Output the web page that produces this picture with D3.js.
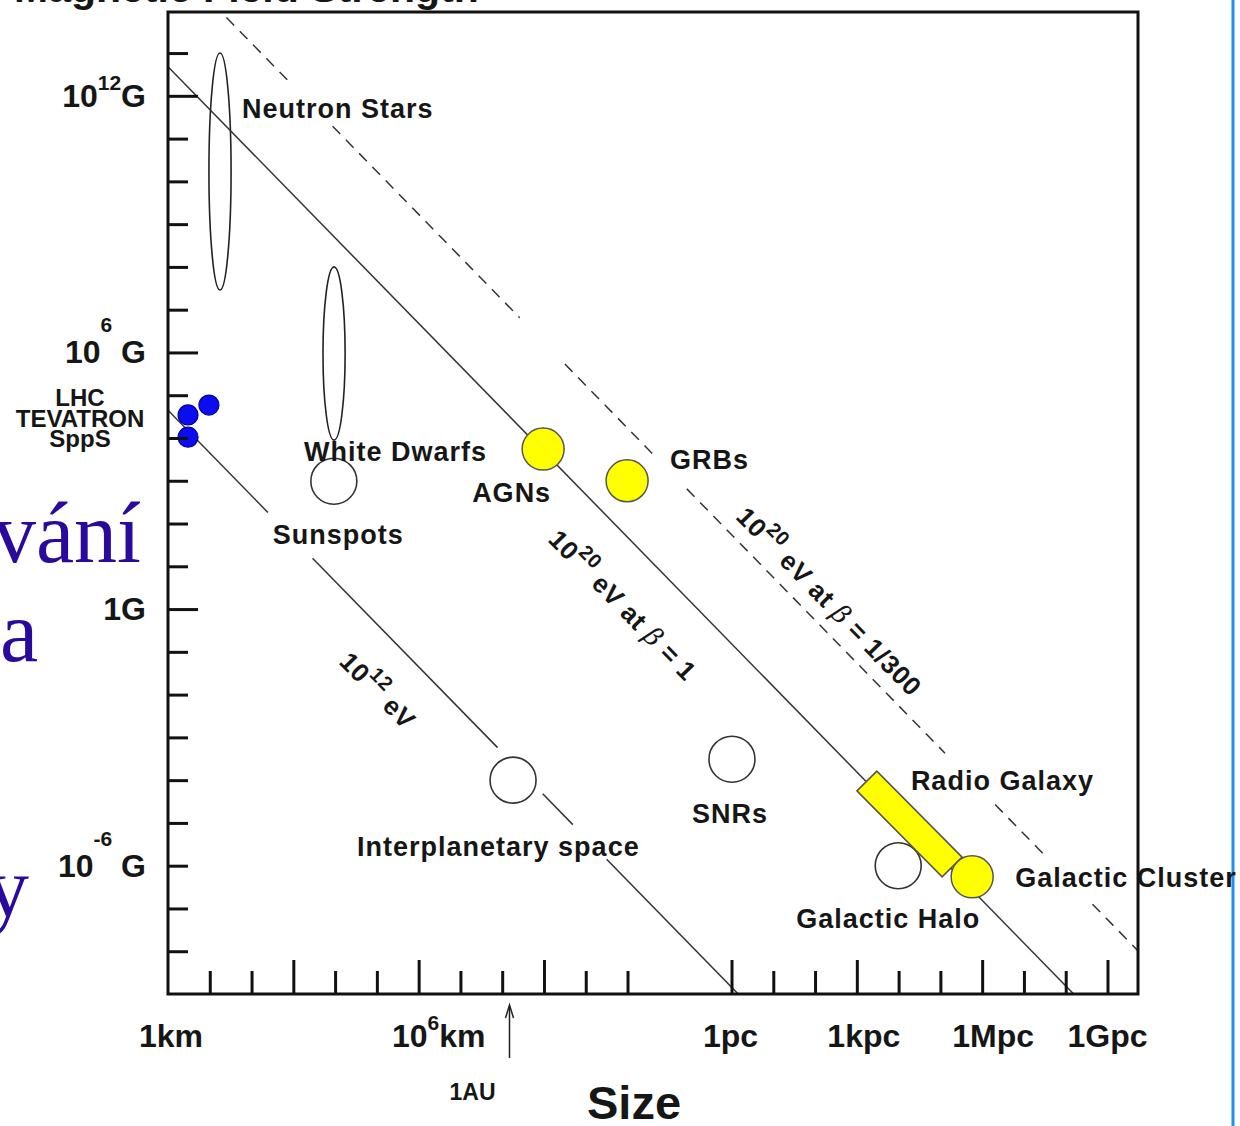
<!DOCTYPE html>
<html>
<head>
<meta charset="utf-8">
<script src="https://cdn.jsdelivr.net/npm/d3@7"></script>
<style>
  body { margin: 0; background: #fff; }
  svg { display: block; }
  .lbl { font-family: "Liberation Sans", Arial, sans-serif; font-weight: bold; font-size: 27px; letter-spacing: 1px; fill: #161616; }
  .axl { font-family: "Liberation Sans", Arial, sans-serif; font-weight: bold; font-size: 32px; fill: #161616; }
</style>
</head>
<body>
<svg id="chart" width="1240" height="1126"></svg>
<script>
// Hillas diagram: magnetic field strength against size of possible cosmic-ray accelerators.
// Sizes are in km, fields in gauss; both axes are logarithmic.

const KM_PER_PC = 3.086e13;
const KM_PER_AU = 1.496e8;

// ---- axis data ----
const yTickExponents = d3.range(-8, 14);          // a tick every decade of gauss
const yMajorExponents = [12, 6, 0];
const yTickLabels = [
  { exp: 12, base: "10", sup: "12", unit: "G" },
  { exp: 6,  base: "10", sup: "6",  unit: " G" },
  { exp: 0,  base: "1G", sup: "",   unit: "" },
  { exp: -6, base: "10", sup: "-6", unit: " G" }
];
const xKmTickExponents = d3.range(1, 12);         // 10 km ... 10^11 km
const xKmMajorExponents = [3, 6, 9];
const xPcTickExponents = d3.range(0, 10);         // 1 pc ... 1 Gpc
const xPcMajorExponents = [0, 3, 6, 9];
const xTickLabels = [
  { km: 1,               base: "1km", sup: "",  unit: "" },
  { km: 1e6,             base: "10",  sup: "6", unit: "km" },
  { km: KM_PER_PC,       base: "1pc", sup: "",  unit: "" },
  { km: KM_PER_PC * 1e3, base: "1kpc", sup: "", unit: "" },
  { km: KM_PER_PC * 1e6, base: "1Mpc", sup: "", unit: "" },
  { km: KM_PER_PC * 1e9, base: "1Gpc", sup: "", unit: "" }
];

// ---- maximum-energy lines: log10(B[G] * R[km]) = const, drawn piecewise ----
const lineNames = ["1e12eV", "1e20eV_beta1", "1e20eV_beta300"];
const lineLogBR = [4.65, 12.68, 15.23];
const lineSegments = [
  [[0, 2.39], [3.46, 7.89], [8.97, 9.69], [10.5, 14]],
  [[0, 23.3]],
  [[1.4, 2.92], [3.94, 8.42], [9.5, 11.6], [12.42, 18.6], [19.8, 20.95], [22.13, 23.3]]
];
const lineDashed = [false, false, true];

// ---- objects (log10 size in km, log10 field in gauss) ----
const ellipseNames = ["Neutron Stars", "White Dwarfs"];
const ellipseLogR = [[0.98, 1.51], [3.71, 4.24]];
const ellipseLogB = [[7.46, 13.0], [3.95, 8.0]];

const openNames = ["Sunspots", "Interplanetary space", "SNRs", "Galactic Halo"];
const openLogR = [3.97, 8.26, 13.50, 17.48];
const openLogB = [2.99, -4.0, -3.51, -6.0];

const yellowNames = ["AGNs", "GRBs", "Galactic Cluster"];
const yellowLogR = [8.98, 10.99, 19.25];
const yellowLogB = [3.74, 3.0, -6.26];

const radioGalaxyLogR = [16.73, 18.77];
const radioGalaxyLogB = [-4.02, -6.03];

const acceleratorNames = ["LHC", "TEVATRON", "SppS"];
const acceleratorLogR = [0.98, 0.48, 0.48];
const acceleratorLogB = [4.77, 4.54, 4.02];

// ---- layout ----
const W = 1240, H = 1126;
const plot = { left: 168, right: 1138, top: 12, bottom: 994 };
const svg = d3.select("#chart");

const x = d3.scaleLog().domain([1, Math.pow(10, 23.22)]).range([plot.left, plot.right]);
const y = d3.scaleLog().domain([1e-9, Math.pow(10, 13.96)]).range([plot.bottom, plot.top]);
const px = lr => x(Math.pow(10, lr));
const py = lb => y(Math.pow(10, lb));

svg.append("rect").attr("width", W).attr("height", H).attr("fill", "#fff");

// text of the presentation slide peeking out on the left
const slide = svg.append("g").style("font-family", "'Liberation Serif', 'Times New Roman', serif")
  .style("font-size", "86px").attr("fill", "#2a0a9c");
slide.append("text").attr("x", 141).attr("y", 562).attr("text-anchor", "end").text("vání");
slide.append("text").attr("x", 0).attr("y", 661).text("a");
slide.append("text").attr("x", -14).attr("y", 916).text("y");

// chart title, mostly above the visible area
svg.append("text").attr("x", 14).attr("y", 2)
  .style("font-family", "'Liberation Sans', Arial, sans-serif").style("font-weight", "bold")
  .style("font-size", "41px").attr("fill", "#161616").text("Magnetic Field Strength");

// slide edge on the right
svg.append("line").attr("x1", 1233).attr("x2", 1233).attr("y1", 0).attr("y2", H)
  .attr("stroke", "#1f8ff5").attr("stroke-width", 3);

svg.append("defs").append("clipPath").attr("id", "plotclip").append("rect")
  .attr("x", plot.left).attr("y", plot.top)
  .attr("width", plot.right - plot.left).attr("height", plot.bottom - plot.top);

const body = svg.append("g").attr("clip-path", "url(#plotclip)");

// ellipses (outline only)
ellipseNames.forEach((n, i) => {
  const x0 = px(ellipseLogR[i][0]), x1 = px(ellipseLogR[i][1]);
  const y0 = py(ellipseLogB[i][1]), y1 = py(ellipseLogB[i][0]);
  body.append("ellipse").attr("cx", (x0 + x1) / 2).attr("cy", (y0 + y1) / 2)
    .attr("rx", (x1 - x0) / 2).attr("ry", (y1 - y0) / 2)
    .attr("fill", "none").attr("stroke", "#222").attr("stroke-width", 1.6);
});

// energy lines
const lineGen = d3.line().x(d => px(d[0])).y(d => py(d[1]));
lineNames.forEach((n, i) => {
  lineSegments[i].forEach(seg => {
    const pts = seg.map(lr => [lr, lineLogBR[i] - lr]);
    body.append("path").attr("d", lineGen(pts)).attr("fill", "none")
      .attr("stroke", "#333").attr("stroke-width", 1.5)
      .attr("stroke-dasharray", lineDashed[i] ? "11,8" : null);
  });
});

// open circles
const openR = 23;
openNames.forEach((n, i) => {
  body.append("circle").attr("cx", px(openLogR[i])).attr("cy", py(openLogB[i])).attr("r", openR)
    .attr("fill", "#fff").attr("stroke", "#333").attr("stroke-width", 1.6);
});

// radio galaxy band along the 10^20 eV line
{
  const p1 = [px(radioGalaxyLogR[0]), py(radioGalaxyLogB[0])];
  const p2 = [px(radioGalaxyLogR[1]), py(radioGalaxyLogB[1])];
  const len = Math.hypot(p2[0] - p1[0], p2[1] - p1[1]);
  const nx = -(p2[1] - p1[1]) / len, ny = (p2[0] - p1[0]) / len;
  const hw = 14;
  const poly = [[p1[0] + nx * hw, p1[1] + ny * hw], [p2[0] + nx * hw, p2[1] + ny * hw],
                [p2[0] - nx * hw, p2[1] - ny * hw], [p1[0] - nx * hw, p1[1] - ny * hw]];
  body.append("polygon").attr("points", poly.map(p => p.join(",")).join(" "))
    .attr("fill", "#ffff00").attr("stroke", "#555").attr("stroke-width", 1.5);
}

// yellow filled circles
yellowNames.forEach((n, i) => {
  body.append("circle").attr("cx", px(yellowLogR[i])).attr("cy", py(yellowLogB[i])).attr("r", 21)
    .attr("fill", "#ffff00").attr("stroke", "#555").attr("stroke-width", 1.5);
});

// accelerators
acceleratorNames.forEach((n, i) => {
  body.append("circle").attr("cx", px(acceleratorLogR[i])).attr("cy", py(acceleratorLogB[i])).attr("r", 10)
    .attr("fill", "#0c0cf0").attr("stroke", "#00009a").attr("stroke-width", 1.2);
});

// ---- frame and ticks ----
const axisG = svg.append("g");
function ticks(axisFn, vals, size, transform) {
  const g = axisG.append("g").attr("transform", transform)
    .call(axisFn.tickValues(vals).tickSize(size).tickFormat(""));
  g.select(".domain").remove();
  g.selectAll(".tick line").attr("stroke", "#111").attr("stroke-width", 3);
}
const yMinor = yTickExponents.filter(e => !yMajorExponents.includes(e)).map(e => Math.pow(10, e));
ticks(d3.axisRight(y), yMinor, 20, `translate(${plot.left},0)`);
ticks(d3.axisRight(y), yMajorExponents.map(e => Math.pow(10, e)), 30, `translate(${plot.left},0)`);

const xKm = xKmTickExponents.filter(e => !xKmMajorExponents.includes(e)).map(e => Math.pow(10, e));
const xPc = xPcTickExponents.filter(e => !xPcMajorExponents.includes(e)).map(e => KM_PER_PC * Math.pow(10, e));
const xMajor = xKmMajorExponents.map(e => Math.pow(10, e)).concat(xPcMajorExponents.map(e => KM_PER_PC * Math.pow(10, e)));
ticks(d3.axisTop(x), xKm.concat(xPc), 23, `translate(0,${plot.bottom})`);
ticks(d3.axisTop(x), xMajor, 34, `translate(0,${plot.bottom})`);

svg.append("rect").attr("x", plot.left).attr("y", plot.top)
  .attr("width", plot.right - plot.left).attr("height", plot.bottom - plot.top)
  .attr("fill", "none").attr("stroke", "#111").attr("stroke-width", 3);

// ---- axis labels ----
function supText(t, base, sup, unit, supSize, rise) {
  t.append("tspan").text(base);
  if (sup) t.append("tspan").style("font-size", supSize + "px").attr("dy", -rise).text(sup);
  if (unit) t.append("tspan").attr("dy", sup ? rise : 0).text(unit);
}
const yRise = { 12: 17, 6: 31, 0: 0, "-6": 31 };
yTickLabels.forEach(d => {
  const t = svg.append("text").attr("class", "axl").attr("text-anchor", "end")
    .attr("x", 146).attr("y", y(Math.pow(10, d.exp)) + 11);
  supText(t, d.base, d.sup, d.unit, 21, yRise[d.exp]);
});

const xNudge = [3, 20, -1, 7, 11, 0];
xTickLabels.forEach((d, i) => {
  const t = svg.append("text").attr("class", "axl").attr("text-anchor", "middle")
    .attr("x", x(d.km) + xNudge[i]).attr("y", 1047);
  supText(t, d.base, d.sup, d.unit, 21, 17);
});

// 1 AU marker
{
  const ax = x(KM_PER_AU);
  const g = svg.append("g").attr("stroke", "#222").attr("stroke-width", 1.5).attr("fill", "none");
  g.append("line").attr("x1", ax).attr("x2", ax).attr("y1", 1006).attr("y2", 1058);
  g.append("path").attr("d", `M${ax - 4},${1018} L${ax},${1005} L${ax + 4},${1018}`);
  svg.append("text").attr("class", "axl").style("font-size", "23px").attr("text-anchor", "middle")
    .attr("x", ax - 37).attr("y", 1100).text("1AU");
}
svg.append("text").attr("class", "axl").style("font-size", "47px").attr("x", 587).attr("y", 1119).text("Size");

// accelerator names
const accG = svg.append("text").attr("class", "axl").style("font-size", "24px").attr("text-anchor", "middle");
acceleratorNames.forEach((n, i) => {
  accG.append("tspan").attr("x", 80).attr("y", 406 + i * 20.5).text(n);
});

// ---- object labels (offsets from each mark) ----
const labelOffset = {
  "Neutron Stars": [22, -54], "White Dwarfs": [-30, 107], "Sunspots": [-61, 63],
  "Interplanetary space": [-156, 76], "SNRs": [-40, 64], "Galactic Halo": [-102, 62],
  "AGNs": [-71, 53], "GRBs": [43, -12], "Galactic Cluster": [43, 10], "Radio Galaxy": [44, 9]
};
function addLabel(name, cx, cy) {
  const o = labelOffset[name];
  svg.append("text").attr("class", "lbl").attr("x", cx + o[0]).attr("y", cy + o[1]).text(name);
}
ellipseNames.forEach((n, i) => addLabel(n,
  (px(ellipseLogR[i][0]) + px(ellipseLogR[i][1])) / 2,
  (py(ellipseLogB[i][0]) + py(ellipseLogB[i][1])) / 2));
openNames.forEach((n, i) => addLabel(n, px(openLogR[i]), py(openLogB[i])));
yellowNames.forEach((n, i) => addLabel(n, px(yellowLogR[i]), py(yellowLogB[i])));
addLabel("Radio Galaxy", px(radioGalaxyLogR[0]), py(radioGalaxyLogB[0]));

// ---- rotated line labels ----
const ux = x(10) - x(1), uy = y(0.1) - y(1);
const uLen = Math.hypot(ux, uy);
const dir = [ux / uLen, uy / uLen];
const nrm = [-dir[1], dir[0]];                // points to the lower-left of a line
const angle = Math.atan2(uy, ux) * 180 / Math.PI;
const lineLabels = [
  { line: 0, along: 5.01, side: 55, parts: [["10"], ["12", "sup"], [" eV"]] },
  { line: 1, along: 10.1, side: 60, parts: [["10"], ["20", "sup"], [" eV at "], ["β", "greek"], [" = 1"]] },
  { line: 2, along: 13.33, side: -14, parts: [["10"], ["20", "sup"], [" eV at "], ["β", "greek"], [" = 1/300"]] }
];
lineLabels.forEach(L => {
  const bx = px(L.along), by = py(lineLogBR[L.line] - L.along);
  const ax = bx + nrm[0] * L.side, ay = by + nrm[1] * L.side;
  const t = svg.append("text").attr("class", "lbl").style("font-size", "26px").style("letter-spacing", "0.7px")
    .attr("transform", `translate(${ax},${ay}) rotate(${angle})`);
  let raised = false;
  L.parts.forEach(p => {
    const s = t.append("tspan").text(p[0]);
    if (p[1] === "sup") { s.style("font-size", "20px").attr("dy", -13); raised = true; }
    else if (raised) { s.attr("dy", 13); raised = false; }
    if (p[1] === "greek") s.style("font-family", "'DejaVu Serif', serif").style("font-style", "italic").style("font-weight", "normal");
  });
});
</script>
</body>
</html>
